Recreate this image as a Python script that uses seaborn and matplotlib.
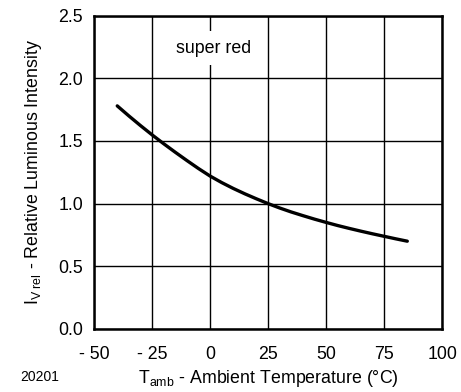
import matplotlib
matplotlib.use("Agg")
import matplotlib.pyplot as plt
import seaborn as sns
import pandas as pd

temps = [-40, -35, -30, -25, -20, -15, -10, -5, 0, 5, 10, 15, 20, 25,
         30, 35, 40, 45, 50, 55, 60, 65, 70, 75, 80, 85]
intensity = [1.78, 1.70, 1.623, 1.549, 1.478, 1.41, 1.344, 1.28, 1.22, 1.168, 1.121, 1.078, 1.038, 1.00,
             0.965, 0.933, 0.904, 0.876, 0.85, 0.825, 0.802, 0.78, 0.759, 0.739, 0.719, 0.70]
xticks = [-50, -25, 0, 25, 50, 75, 100]
xticklabels = ["- 50", "- 25", "0", "25", "50", "75", "100"]
yticks = [0.0, 0.5, 1.0, 1.5, 2.0, 2.5]
yticklabels = ["0.0", "0.5", "1.0", "1.5", "2.0", "2.5"]

sns.set_theme(style="white")
plt.rcParams['font.family'] = ['Liberation Sans', 'DejaVu Sans']
plt.rcParams['mathtext.fontset'] = 'custom'
plt.rcParams['mathtext.rm'] = 'Liberation Sans'
plt.rcParams['mathtext.it'] = 'Liberation Sans'

df = pd.DataFrame({"T": temps, "I": intensity})

fig = plt.figure(figsize=(4.61, 3.92), dpi=100)
ax = fig.add_axes([0.204, 0.161, 0.755, 0.799])
sns.lineplot(data=df, x="T", y="I", ax=ax, color="black", linewidth=2.4, zorder=3)

fs = 12.8
ax.set_xlim(-50, 100)
ax.set_ylim(0, 2.5)
ax.set_xticks(xticks)
ax.set_xticklabels(xticklabels, fontsize=fs)
ax.set_yticks(yticks)
ax.set_yticklabels(yticklabels, fontsize=fs)
ax.tick_params(axis="x", length=0, pad=12, colors="black")
ax.tick_params(axis="y", length=0, pad=8, colors="black")
ax.grid(True, color="black", linewidth=1.0)
for s in ax.spines.values():
    s.set_color("black")
    s.set_linewidth(1.8)

ax.set_xlabel(r"T$_{\mathregular{amb}}$ - Ambient Temperature (°C)", fontsize=fs, color="black", labelpad=4)
ax.set_ylabel(r"I$_{\mathregular{V\ rel}}$ - Relative Luminous Intensity", fontsize=fs, color="black", labelpad=10)

ax.text(1.5, 2.24, "super red", ha="center", va="center", fontsize=fs, color="black",
        bbox=dict(facecolor="white", edgecolor="none", pad=6), zorder=4)
fig.text(0.043, 0.027, "20201", fontsize=10, color="black")

fig.savefig("out.png", dpi=100)
